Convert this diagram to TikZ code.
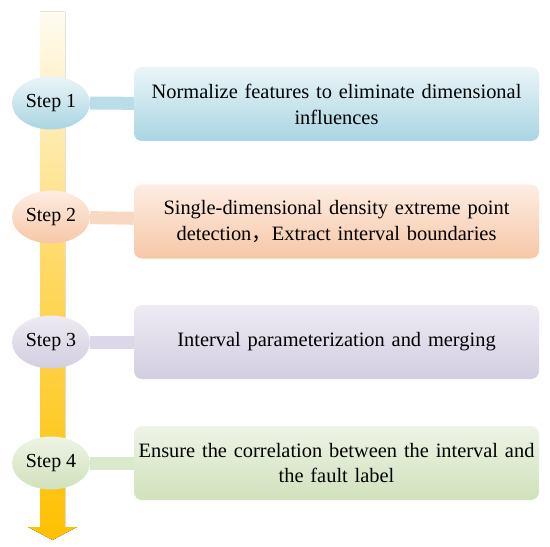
\documentclass[tikz,border=0pt]{standalone}
\usepackage{fontspec}
\setmainfont{Liberation Serif}
\newfontfamily\cjk{Noto Sans CJK SC}
\usetikzlibrary{shapes.geometric,backgrounds}
\definecolor{bA}{HTML}{EAF5F9}\definecolor{bB}{HTML}{A9D5E2}\definecolor{cB}{HTML}{BADDE8}
\definecolor{oA}{HTML}{FDEDE3}\definecolor{oB}{HTML}{F7C7A6}\definecolor{cO}{HTML}{F9D8C2}
\definecolor{pA}{HTML}{EEEBF3}\definecolor{pB}{HTML}{D3CDE1}\definecolor{cP}{HTML}{DDD8E9}
\definecolor{gA}{HTML}{EEF4E6}\definecolor{gB}{HTML}{D0E1BB}\definecolor{cG}{HTML}{DAE8CB}
\definecolor{barTop}{HTML}{FFFBF2}\definecolor{barBot}{HTML}{FFC000}
\tikzset{
  stepell/.style={ellipse, minimum width=78bp, minimum height=53bp, inner sep=0pt, font=\fontsize{20}{22}\selectfont},
  taskbox/.style={rectangle, rounded corners=8bp, minimum width=405bp, minimum height=74bp, text width=405bp, align=center, inner sep=0pt, font=\fontsize{20.5}{26}\selectfont},
  link/.style={line width=13bp},
}
\begin{document}
\begin{tikzpicture}[x=1bp,y=-1bp]
\useasboundingbox (0,0) rectangle (550,547);
\fill[top color=barTop, bottom color=barBot, middle color=barTop!40!barBot]
  (40,12) -- (65,12) -- (65,527) -- (77,527) -- (52.5,540) -- (28,527) -- (40,527) -- cycle;
\node[stepell, top color=bA, bottom color=bB] (s1) at (51,103) {Step 1};
\node[stepell, top color=oA, bottom color=oB] (s2) at (51,217) {Step 2};
\node[stepell, top color=pA, bottom color=pB] (s3) at (51,342) {Step 3};
\node[stepell, top color=gA, bottom color=gB] (s4) at (51,463) {Step 4};
\node[taskbox, top color=bA, bottom color=bB] (b1) at (336.5,104) {Normalize features to eliminate dimensional\\influences};
\node[taskbox, top color=oA, bottom color=oB] (b2) at (336.5,221.5) {Single-dimensional density extreme point\\detection{\cjk ，}Extract interval boundaries};
\node[taskbox, top color=pA, bottom color=pB] (b3) at (336.5,342) {Interval parameterization and merging};
\node[taskbox, top color=gA, bottom color=gB] (b4) at (336.5,463) {Ensure the correlation between the interval and\\the fault label};
\begin{pgfonlayer}{background}
\draw[link, cB] (s1) -- (b1);
\draw[link, cO] (s2) -- (b2);
\draw[link, cP] (s3) -- (b3);
\draw[link, cG] (s4) -- (b4);
\end{pgfonlayer}
\end{tikzpicture}
\end{document}
